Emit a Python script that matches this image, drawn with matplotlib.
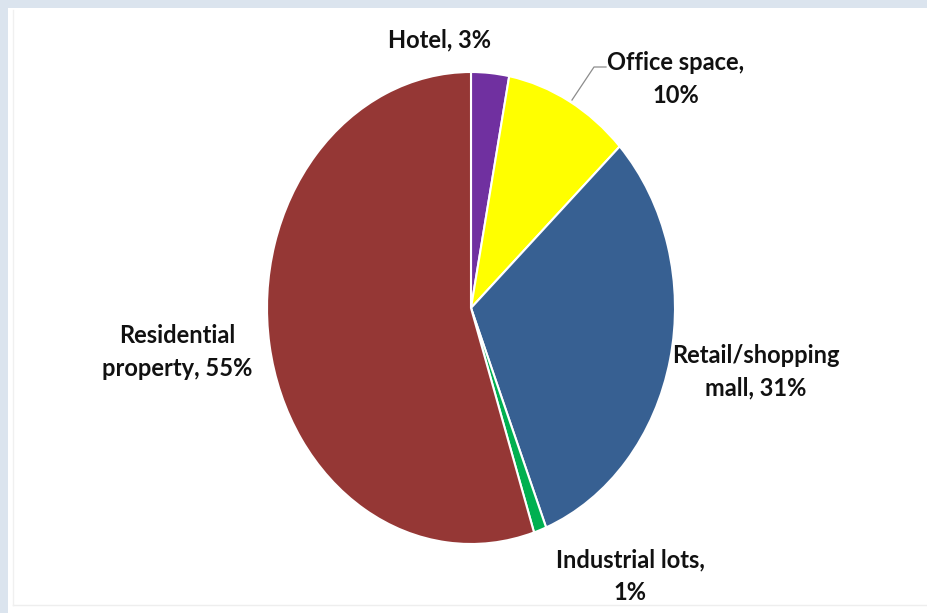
import matplotlib
matplotlib.use("Agg")
import matplotlib.pyplot as plt
from matplotlib.patches import Rectangle
from matplotlib.lines import Line2D

# Share of property types
categories = ["Hotel", "Office space", "Retail/shopping mall", "Industrial lots", "Residential property"]
shares = [3, 10, 31, 1, 55]
labels = ["Hotel, 3%", "Office space,\n10%", "Retail/shopping\nmall, 31%",
          "Industrial lots,\n1%", "Residential\nproperty, 55%"]
colors = ["#7030a0", "#ffff00", "#376092", "#00b050", "#953735"]

W, H = 927, 613
fig = plt.figure(figsize=(W / 100, H / 100), dpi=100)
fig.patch.set_facecolor("white")

# light frame on the left and top edges
fig.patches.append(Rectangle((0, 0), 8 / W, 1, transform=fig.transFigure,
                             facecolor="#dbe4ee", edgecolor="none", zorder=0))
fig.patches.append(Rectangle((0, 1 - 8 / H), 1, 8 / H, transform=fig.transFigure,
                             facecolor="#dbe4ee", edgecolor="none", zorder=0))
fig.lines.append(Line2D([13 / W, 1], [1 - 605 / H] * 2, transform=fig.transFigure,
                        color="#eeeeee", lw=1))
fig.lines.append(Line2D([13 / W] * 2, [1 - 605 / H, 1 - 10 / H], transform=fig.transFigure,
                        color="#f0f0f0", lw=1))

# pie is drawn slightly taller than wide
cx, cy, rx, ry = 471, 308, 204, 236
ax = fig.add_axes([(cx - rx) / W, 1 - (cy + ry) / H, 2 * rx / W, 2 * ry / H])
ax.pie(shares, colors=colors, startangle=90, counterclock=False,
       wedgeprops=dict(edgecolor="white", linewidth=1.5))
ax.set_aspect("auto")
ax.set_xlim(-1, 1)
ax.set_ylim(-1, 1)
ax.axis("off")

font = dict(family=["Lato", "DejaVu Sans"], fontweight="bold",
            fontsize=17, color="#111111", ha="center", va="center", linespacing=1.5)

label_pos = {
    "Hotel": (440, 40),
    "Office space": (676, 79),
    "Retail/shopping mall": (756, 372),
    "Industrial lots": (630, 576),
    "Residential property": (177, 352),
}
for cat, lab in zip(categories, labels):
    x, y = label_pos[cat]
    fig.text(x / W, 1 - y / H, lab, **font)

# leader line for the office slice
fig.lines.append(Line2D([606 / W, 594 / W, 572 / W],
                        [1 - 67 / H, 1 - 67 / H, 1 - 100 / H],
                        transform=fig.transFigure, color="#8c8c8c", lw=0.9))

fig.savefig("out.png", dpi=100, facecolor=fig.get_facecolor())
